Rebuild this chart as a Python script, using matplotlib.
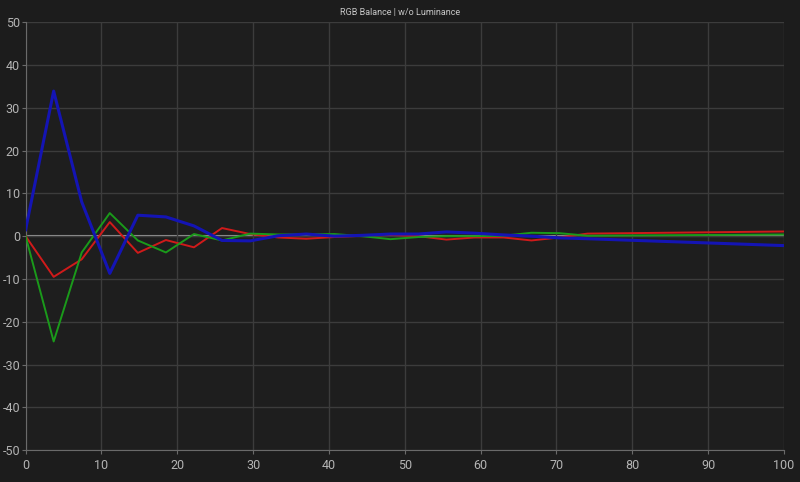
import matplotlib
matplotlib.use("Agg")
import matplotlib.pyplot as plt

plt.rcParams["axes.unicode_minus"] = False

# stimulus level (%) and channel deviation
x = [0, 3.7, 7.4, 11.1, 14.8, 18.5, 22.2, 25.9, 29.6, 33.3, 37.0, 40.7, 44.4,
     48.1, 51.8, 55.5, 59.2, 63.0, 66.7, 70.4, 74.1, 100]
red = [0, -9.5, -5.4, 3.3, -3.9, -0.9, -2.6, 1.9, 0.5, -0.3, -0.6, -0.2, 0.1,
       0.3, 0.0, -0.8, -0.3, -0.3, -1.0, -0.3, 0.6, 1.1]
green = [0, -24.6, -3.8, 5.4, -1.0, -3.8, 0.5, -1.0, 0.6, 0.4, 0.4, 0.5, 0.0,
         -0.7, -0.2, 0.0, 0.0, 0.1, 0.8, 0.7, 0.1, 0.4]
blue = [1.5, 33.9, 8.0, -8.7, 4.9, 4.5, 2.4, -1.0, -1.1, 0.1, 0.5, 0.0, 0.2,
        0.5, 0.5, 1.0, 0.7, 0.3, 0.0, -0.4, -0.6, -2.2]

xticks = list(range(0, 101, 10))
yticks = list(range(-50, 51, 10))

bg = "#1c1c1c"
fig = plt.figure(figsize=(8, 4.82), dpi=100, facecolor=bg)
ax = fig.add_axes([0.032, 0.066, 0.948, 0.888], facecolor="#1e1e1e")

ax.set_xlim(0, 100)
ax.set_ylim(-50, 50)
ax.set_xticks(xticks)
ax.set_yticks(yticks)
ax.grid(True, color="#3c3c3c", linewidth=1)
ax.axhline(0, color="#9a9a9a", linewidth=1.5, zorder=1)

ax.plot(x, red, color="#d01a1a", linewidth=1.4, zorder=3)
ax.plot(x, green, color="#1a9a1a", linewidth=1.4, zorder=3)
ax.plot(x, blue, color="#1414b4", linewidth=2.2, zorder=4)

for s in ["top", "right"]:
    ax.spines[s].set_visible(False)
for s in ["left", "bottom"]:
    ax.spines[s].set_color("#6a6a6a")
ax.tick_params(colors="#6a6a6a", labelcolor="#b4b4b4", labelsize=9, length=3)
ax.tick_params(axis="y", pad=1)
for lbl in ax.get_xticklabels() + ax.get_yticklabels():
    lbl.set_fontfamily("Roboto")

fig.text(0.5, 0.975, "RGB Balance | w/o Luminance", ha="center", va="center",
         color="#c8c8c8", fontsize=6.5, family="Roboto")

fig.savefig("out.png", facecolor=bg)
